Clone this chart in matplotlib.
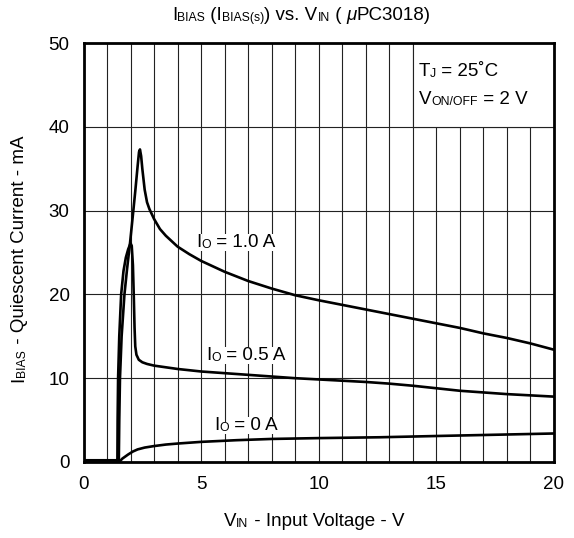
"""IBIAS vs VIN curves for uPC3018 (datasheet-style chart)"""
import matplotlib
matplotlib.use('Agg')
import matplotlib.pyplot as plt
from matplotlib.patches import Rectangle
from matplotlib.transforms import Bbox

plt.rcParams.update({
    'font.family': ['Liberation Sans', 'DejaVu Sans'],
    'font.size': 13.5,
})

BIG, SMALL = 13.5, 8.8

# Io = 1.0 A
v_10 = [0, 1.42, 1.50, 1.52, 1.55, 1.62, 1.74, 1.85, 1.98, 2.10, 2.20, 2.30, 2.36, 2.40,
        2.45, 2.50, 2.60, 2.70, 2.80, 2.90, 3.00, 3.25, 3.50, 4.00, 4.50, 5, 6, 7, 8, 9,
        10, 11, 12, 13, 14, 15, 16, 17, 18, 19, 20]
i_10 = [0.2, 0.2, 0.0, 5.0, 10.0, 15.0, 20.0, 23.0, 26.2, 29.5, 32.3, 35.3, 37.0, 37.3,
        36.5, 35.0, 32.5, 31.0, 30.2, 29.6, 29.0, 27.8, 27.0, 25.7, 24.8, 24.0, 22.7, 21.6, 20.7, 19.9,
        19.3, 18.75, 18.2, 17.65, 17.1, 16.55, 16.0, 15.35, 14.8, 14.15, 13.4]

# Io = 0.5 A
v_05 = [0, 1.42, 1.44, 1.45, 1.47, 1.52, 1.60, 1.70, 1.80, 1.90, 2.00, 2.05, 2.10, 2.14,
        2.17, 2.20, 2.25, 2.35, 2.50, 2.70, 3.00, 3.50, 4, 5, 6, 7, 8, 9, 10, 11, 12, 13,
        14, 15, 16, 17, 18, 19, 20]
i_05 = [0.2, 0.2, 0.0, 5.0, 10.0, 15.0, 20.0, 22.8, 24.4, 25.4, 26.1, 25.8, 23.5, 19.5,
        16.0, 13.8, 12.8, 12.2, 11.9, 11.7, 11.5, 11.3, 11.1, 10.8, 10.6, 10.4, 10.2, 10.0, 9.85, 9.7, 9.55, 9.35,
        9.1, 8.8, 8.5, 8.3, 8.1, 7.95, 7.8]

# Io = 0 A
v_00 = [0, 1.42, 1.50, 1.55, 1.65, 1.80, 1.90, 2.10, 2.30, 2.60, 3.00, 3.50, 4.0, 5.0,
        6.5, 8.0, 10.0, 12.6, 15.0, 17.5, 20.0]
i_00 = [0.2, 0.2, 0.0, 0.1, 0.4, 0.7, 0.9, 1.25, 1.5, 1.72, 1.9, 2.08, 2.2, 2.4,
        2.6, 2.75, 2.85, 2.95, 3.1, 3.25, 3.4]

x_major = [0, 5, 10, 15, 20]
x_minor = list(range(1, 20))
y_major = [0, 10, 20, 30, 40, 50]


def rich(ax, x, y, parts, coords, rot=0, **kw):
    """Draw text made of pieces with different sizes, chained left to right."""
    texts = []
    for s, size, style in parts:
        if not texts:
            if rot:
                t = ax.annotate(s, xy=(x, y), xycoords=coords, fontsize=size, style=style,
                                rotation=rot, ha='right', va='bottom', annotation_clip=False, **kw)
            else:
                t = ax.annotate(s, xy=(x, y), xycoords=coords, fontsize=size, style=style,
                                ha='left', va='bottom', annotation_clip=False, **kw)
        else:
            if rot:
                t = ax.annotate(s, xy=(1, 1), xycoords=texts[-1], fontsize=size, style=style,
                                rotation=rot, ha='right', va='bottom', annotation_clip=False, **kw)
            else:
                t = ax.annotate(s, xy=(1, 0), xycoords=texts[-1], fontsize=size, style=style,
                                ha='left', va='bottom', annotation_clip=False, **kw)
        texts.append(t)
    return texts


fig = plt.figure(figsize=(5.74, 5.38), dpi=100)
ax = fig.add_axes([0.1455, 0.1413, 0.8195, 0.7787])

ax.set_xlim(0, 20)
ax.set_ylim(0, 50)
ax.set_xticks(x_major)
ax.set_xticks(x_minor, minor=True)
ax.set_yticks(y_major)
ax.tick_params(which='both', length=0)
ax.tick_params(axis='x', pad=10)
ax.tick_params(axis='y', pad=10)
ax.set_axisbelow(True)
ax.grid(which='both', axis='x', color='#222222', lw=0.8)
ax.grid(which='major', axis='y', color='#222222', lw=0.8)
for sp in ax.spines.values():
    sp.set_linewidth(2)
    sp.set_color('black')
    sp.set_zorder(3)

# condition box in the top right corner
ax.add_patch(Rectangle((14, 40), 6, 10, facecolor='white', edgecolor='#222222', lw=0.8, zorder=1))

for v, i in [(v_10, i_10), (v_05, i_05), (v_00, i_00)]:
    ax.plot(v, i, color='black', lw=1.9, zorder=2, solid_joinstyle='round')

# curve labels (white background hides the grid behind the text)
box = dict(facecolor='white', edgecolor='none', pad=0)
rich(ax, 4.8, 25.2, [('I', BIG, 'normal'), ('O', SMALL, 'normal'), (' = 1.0 A', BIG, 'normal')],
     'data', bbox=box, zorder=4)
rich(ax, 5.2, 11.7, [('I', BIG, 'normal'), ('O', SMALL, 'normal'), (' = 0.5 A', BIG, 'normal')],
     'data', bbox=box, zorder=4)
rich(ax, 5.55, 3.3, [('I', BIG, 'normal'), ('O', SMALL, 'normal'), (' = 0 A', BIG, 'normal')],
     'data', bbox=box, zorder=4)

# conditions
rich(ax, 14.25, 45.6, [('T', BIG, 'normal'), ('J', SMALL, 'normal'), (' = 25\u02daC', BIG, 'normal')],
     'data', zorder=4)
rich(ax, 14.25, 42.2, [('V', BIG, 'normal'), ('ON/OFF', SMALL, 'normal'), (' = 2 V', BIG, 'normal')],
     'data', zorder=4)

# title and axis labels
title = rich(ax, 0.30, 0.955, [('I', BIG, 'normal'), ('BIAS', SMALL, 'normal'), (' (I', BIG, 'normal'),
                               ('BIAS(s)', SMALL, 'normal'), (') vs. V', BIG, 'normal'),
                               ('IN', SMALL, 'normal'), (' ( ', BIG, 'normal'),
                               ('\u03bc', BIG, 'italic'), ('PC3018)', BIG, 'normal')],
             'figure fraction')
xlab = rich(ax, 0.39, 0.014, [('V', BIG, 'normal'), ('IN', SMALL, 'normal'),
                              (' - Input Voltage - V', BIG, 'normal')], 'figure fraction')
ylab = rich(ax, 0.048, 0.29, [('I', BIG, 'normal'), ('BIAS', SMALL, 'normal'),
                              (' - Quiescent Current - mA', BIG, 'normal')], 'figure fraction', rot=90)

# center the multi-part labels
fig.canvas.draw()
r = fig.canvas.get_renderer()
W, H = fig.bbox.width, fig.bbox.height
for texts, cx, cy in [(title, 307 / 574, None), (xlab, 318 / 574, None), (ylab, None, 1 - 252 / 538)]:
    bb = Bbox.union([t.get_window_extent(r) for t in texts])
    x0, y0 = texts[0].xy
    if cx is not None:
        x0 += (cx * W - (bb.x0 + bb.x1) / 2) / W
    if cy is not None:
        y0 += (cy * H - (bb.y0 + bb.y1) / 2) / H
    texts[0].xy = (x0, y0)

plt.savefig('out.png', dpi=100)
plt.close()
